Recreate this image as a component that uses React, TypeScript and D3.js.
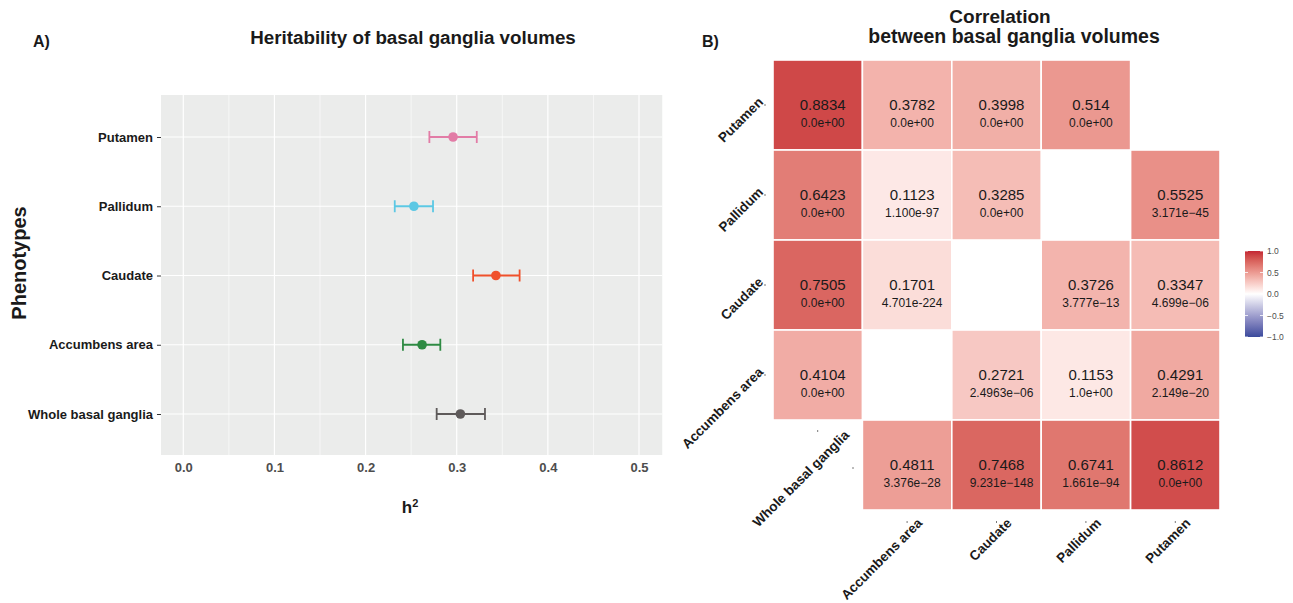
import React, { useEffect, useRef } from 'react';
import * as d3 from 'd3';

// Panel A: heritability estimates
const phenotypes = ['Whole basal ganglia', 'Accumbens area', 'Caudate', 'Pallidum', 'Putamen'];
const h2Values = [0.304, 0.262, 0.343, 0.253, 0.296];
const h2Lower = [0.278, 0.241, 0.318, 0.232, 0.27];
const h2Upper = [0.331, 0.282, 0.369, 0.274, 0.322];
const pointColors = ['#5e5a5a', '#2e8a43', '#f0502b', '#5cc8e4', '#e27ca6'];
const h2Ticks = [0, 0.1, 0.2, 0.3, 0.4, 0.5];

// Panel B: correlation matrix
const corrCols = ['Whole basal ganglia', 'Accumbens area', 'Caudate', 'Pallidum', 'Putamen'];
const corrRows = ['Putamen', 'Pallidum', 'Caudate', 'Accumbens area', 'Whole basal ganglia'];
const rPutamen = [0.8834, 0.3782, 0.3998, 0.514, null];
const rPallidum = [0.6423, 0.1123, 0.3285, null, 0.5525];
const rCaudate = [0.7505, 0.1701, null, 0.3726, 0.3347];
const rAccumbens = [0.4104, null, 0.2721, 0.1153, 0.4291];
const rWhole = [null, 0.4811, 0.7468, 0.6741, 0.8612];
const pPutamen = ['0.0e+00', '0.0e+00', '0.0e+00', '0.0e+00', null];
const pPallidum = ['0.0e+00', '1.100e-97', '0.0e+00', null, '3.171e\u221245'];
const pCaudate = ['0.0e+00', '4.701e-224', null, '3.777e\u221213', '4.699e\u221206'];
const pAccumbens = ['0.0e+00', null, '2.4963e\u221206', '1.0e+00', '2.149e\u221220'];
const pWhole = [null, '3.376e\u221228', '9.231e\u2212148', '1.661e\u221294', '0.0e+00'];
const legendTicks = [1, 0.5, 0, -0.5, -1];

const FONT = 'Liberation Sans, Arial, sans-serif';

const App: React.FC = () => {
  const ref = useRef<SVGSVGElement>(null);

  useEffect(() => {
    if (ref.current) drawChart(ref.current);
  }, []);

  return (
    <svg
      ref={ref}
      width={1293}
      height={603}
      style={{ position: 'absolute', left: 0, top: 0, background: '#fff' }}
    />
  );
};

const drawChart = (node: SVGSVGElement) => {
  const svg = d3.select(node);
  svg.selectAll('*').remove();
  svg.style('font-family', FONT);

  // ---------- Panel A ----------
  const x = d3.scaleLinear().domain([0, 0.5]).range([183.3, 639]);
  const y = d3.scalePoint<string>().domain(phenotypes).range([414, 137]);
  const panelL = x(-0.0245);
  const panelR = x(0.5255);
  const panelT = 95;
  const panelB = 455;

  const a = svg.append('g');
  a.append('rect')
    .attr('x', panelL)
    .attr('y', panelT)
    .attr('width', panelR - panelL)
    .attr('height', panelB - panelT)
    .attr('fill', '#ebeceb');

  const minor = d3.range(0.05, 0.5, 0.1);
  a.selectAll('.minor')
    .data(minor)
    .enter()
    .append('line')
    .attr('x1', (d) => x(d))
    .attr('x2', (d) => x(d))
    .attr('y1', panelT)
    .attr('y2', panelB)
    .attr('stroke', '#fff')
    .attr('stroke-width', 0.6);

  a.selectAll('.major')
    .data(h2Ticks)
    .enter()
    .append('line')
    .attr('x1', (d) => x(d))
    .attr('x2', (d) => x(d))
    .attr('y1', panelT)
    .attr('y2', panelB)
    .attr('stroke', '#fff')
    .attr('stroke-width', 1.2);

  a.selectAll('.hgrid')
    .data(phenotypes)
    .enter()
    .append('line')
    .attr('x1', panelL)
    .attr('x2', panelR)
    .attr('y1', (d) => y(d) || 0)
    .attr('y2', (d) => y(d) || 0)
    .attr('stroke', '#fff')
    .attr('stroke-width', 1.2);

  // y axis
  const yAxisG = a.append('g').attr('transform', `translate(${panelL},0)`);
  yAxisG.call(d3.axisLeft(y).tickSize(4).tickPadding(4));
  yAxisG.select('.domain').remove();
  yAxisG.selectAll('.tick line').attr('stroke', '#333');
  yAxisG
    .selectAll('text')
    .attr('fill', '#1a1a1a')
    .style('font-size', '13px')
    .style('font-weight', 'bold')
    .style('font-family', FONT);

  // x axis
  const xAxisG = a.append('g').attr('transform', `translate(0,${panelB})`);
  xAxisG.call(d3.axisBottom(x).tickValues(h2Ticks).tickFormat(d3.format('.1f')).tickSize(0).tickPadding(8));
  xAxisG.select('.domain').remove();
  xAxisG
    .selectAll('text')
    .attr('fill', '#4d4d4d')
    .style('font-size', '13px')
    .style('font-weight', 'bold')
    .style('font-family', FONT);

  // error bars + points
  const rows = phenotypes.map((p, i) => ({
    name: p,
    v: h2Values[i],
    lo: h2Lower[i],
    hi: h2Upper[i],
    c: pointColors[i],
  }));
  const eb = a.selectAll('.eb').data(rows).enter().append('g');
  eb.append('line')
    .attr('x1', (d) => x(d.lo))
    .attr('x2', (d) => x(d.hi))
    .attr('y1', (d) => y(d.name) || 0)
    .attr('y2', (d) => y(d.name) || 0)
    .attr('stroke', (d) => d.c)
    .attr('stroke-width', 1.8);
  [(d: any) => d.lo, (d: any) => d.hi].forEach((acc) => {
    eb.append('line')
      .attr('x1', (d) => x(acc(d)))
      .attr('x2', (d) => x(acc(d)))
      .attr('y1', (d) => (y(d.name) || 0) - 6)
      .attr('y2', (d) => (y(d.name) || 0) + 6)
      .attr('stroke', (d) => d.c)
      .attr('stroke-width', 1.8);
  });
  eb.append('circle')
    .attr('cx', (d) => x(d.v))
    .attr('cy', (d) => y(d.name) || 0)
    .attr('r', 4.8)
    .attr('fill', (d) => d.c);

  a.append('text')
    .attr('x', 413)
    .attr('y', 44)
    .attr('text-anchor', 'middle')
    .style('font-size', '18.8px')
    .style('font-weight', 'bold')
    .attr('fill', '#1a1a1a')
    .text('Heritability of basal ganglia volumes');

  a.append('text')
    .attr('x', 33)
    .attr('y', 47)
    .style('font-size', '16px')
    .style('font-weight', 'bold')
    .attr('fill', '#1a1a1a')
    .text('A)');

  a.append('text')
    .attr('transform', `translate(26,263) rotate(-90)`)
    .attr('text-anchor', 'middle')
    .style('font-size', '20px')
    .style('font-weight', 'bold')
    .attr('fill', '#1a1a1a')
    .text('Phenotypes');

  const h2Label = a.append('text')
    .attr('x', 410)
    .attr('y', 513)
    .attr('text-anchor', 'middle')
    .style('font-size', '17px')
    .style('font-weight', 'bold')
    .attr('fill', '#1a1a1a');
  h2Label.append('tspan').text('h');
  h2Label.append('tspan').attr('dy', -6).style('font-size', '11px').text('2');

  // ---------- Panel B ----------
  const b = svg.append('g');
  const cx = d3.scaleBand<string>().domain(corrCols).range([773, 1220]);
  const cy = d3.scaleBand<string>().domain(corrRows).range([60, 510]);
  const color = d3
    .scaleLinear<string>()
    .domain([-1, 0, 1])
    .range(['#3a4a9c', '#ffffff', '#c42633'])
    .interpolate(d3.interpolateLab);

  const rMat = [rPutamen, rPallidum, rCaudate, rAccumbens, rWhole];
  const pMat = [pPutamen, pPallidum, pCaudate, pAccumbens, pWhole];
  const cells: { row: string; col: string; r: number; p: string }[] = [];
  corrRows.forEach((row, i) =>
    corrCols.forEach((col, j) => {
      const r = rMat[i][j];
      if (r !== null) cells.push({ row, col, r, p: pMat[i][j] as string });
    })
  );

  const bw = cx.bandwidth();
  const bh = cy.bandwidth();
  const cg = b.selectAll('.cell').data(cells).enter().append('g');
  cg.append('rect')
    .attr('x', (d) => cx(d.col) || 0)
    .attr('y', (d) => cy(d.row) || 0)
    .attr('width', bw)
    .attr('height', bh)
    .attr('fill', (d) => color(d.r))
    .attr('stroke', '#fff')
    .attr('stroke-width', 1.6);
  cg.append('text')
    .attr('x', (d) => (cx(d.col) || 0) + bw / 2 + 5)
    .attr('y', (d) => (cy(d.row) || 0) + bh / 2 + 5)
    .attr('text-anchor', 'middle')
    .style('font-size', '15px')
    .attr('fill', '#1a1a1a')
    .text((d) => String(d.r));
  cg.append('text')
    .attr('x', (d) => (cx(d.col) || 0) + bw / 2 + 5)
    .attr('y', (d) => (cy(d.row) || 0) + bh / 2 + 22)
    .attr('text-anchor', 'middle')
    .style('font-size', '12px')
    .attr('fill', '#1a1a1a')
    .text((d) => d.p);

  const labelStyle = (sel: any) =>
    sel
      .style('font-size', '13.5px')
      .style('font-weight', 'bold')
      .attr('fill', '#1a1a1a')
      .attr('text-anchor', 'end');

  // row labels
  corrRows.slice(0, 4).forEach((row) => {
    const yc = (cy(row) || 0) + bh / 2;
    b.append('line')
      .attr('x1', 764)
      .attr('x2', 766)
      .attr('y1', yc)
      .attr('y2', yc)
      .attr('stroke', '#555')
      .attr('stroke-width', 0.8);
    labelStyle(
      b.append('text').attr('transform', `translate(764,${yc - 2}) rotate(-45)`)
    ).text(row);
  });

  // column labels
  corrCols.slice(1).forEach((col) => {
    const xc = (cx(col) || 0) + bw / 2;
    b.append('line')
      .attr('x1', xc)
      .attr('x2', xc)
      .attr('y1', 521)
      .attr('y2', 523)
      .attr('stroke', '#555')
      .attr('stroke-width', 0.8);
    labelStyle(
      b.append('text').attr('transform', `translate(${xc + 16},${524}) rotate(-45)`)
    ).text(col);
  });

  // the shared "Whole basal ganglia" label sits on the empty diagonal cell
  const wx = (cx(corrCols[0]) || 0) + bw / 2;
  const wy = (cy(corrRows[4]) || 0) + bh / 2;
  b.append('line')
    .attr('x1', wx)
    .attr('x2', wx)
    .attr('y1', 430)
    .attr('y2', 432)
    .attr('stroke', '#555')
    .attr('stroke-width', 0.8);
  b.append('line')
    .attr('x1', 852)
    .attr('x2', 854)
    .attr('y1', wy + 3)
    .attr('y2', wy + 3)
    .attr('stroke', '#555')
    .attr('stroke-width', 0.8);
  labelStyle(b.append('text').attr('transform', `translate(850,436) rotate(-45)`)).text(
    corrCols[0]
  );

  b.append('text')
    .attr('x', 1000)
    .attr('y', 23)
    .attr('text-anchor', 'middle')
    .style('font-size', '19px')
    .style('font-weight', 'bold')
    .attr('fill', '#1a1a1a')
    .text('Correlation');
  b.append('text')
    .attr('x', 1014)
    .attr('y', 43)
    .attr('text-anchor', 'middle')
    .style('font-size', '19.5px')
    .style('font-weight', 'bold')
    .attr('fill', '#1a1a1a')
    .text('between basal ganglia volumes');
  b.append('text')
    .attr('x', 702)
    .attr('y', 47)
    .style('font-size', '16px')
    .style('font-weight', 'bold')
    .attr('fill', '#1a1a1a')
    .text('B)');

  // legend colourbar
  const ly = d3.scaleLinear().domain([1, -1]).range([251, 337]);
  const defs = svg.append('defs');
  const grad = defs
    .append('linearGradient')
    .attr('id', 'corrGrad')
    .attr('x1', 0)
    .attr('x2', 0)
    .attr('y1', 0)
    .attr('y2', 1);
  d3.range(0, 1.0001, 0.05).forEach((t) => {
    grad
      .append('stop')
      .attr('offset', t)
      .attr('stop-color', color(1 - 2 * t));
  });
  const lg = svg.append('g');
  lg.append('rect')
    .attr('x', 1245)
    .attr('y', ly(1))
    .attr('width', 18)
    .attr('height', ly(-1) - ly(1))
    .attr('fill', 'url(#corrGrad)');
  legendTicks.forEach((t) => {
    lg.append('line')
      .attr('x1', 1245)
      .attr('x2', 1248)
      .attr('y1', ly(t))
      .attr('y2', ly(t))
      .attr('stroke', '#fff')
      .attr('stroke-width', 0.8);
    lg.append('line')
      .attr('x1', 1260)
      .attr('x2', 1263)
      .attr('y1', ly(t))
      .attr('y2', ly(t))
      .attr('stroke', '#fff')
      .attr('stroke-width', 0.8);
  });
  lg.selectAll('.lt')
    .data(legendTicks)
    .enter()
    .append('text')
    .attr('x', 1267)
    .attr('y', (d) => ly(d) + 3)
    .style('font-size', '8.5px')
    .attr('fill', '#4d4d4d')
    .text((d) => d3.format('.1f')(d).replace('-', '\u2212'));
};

export default App;
